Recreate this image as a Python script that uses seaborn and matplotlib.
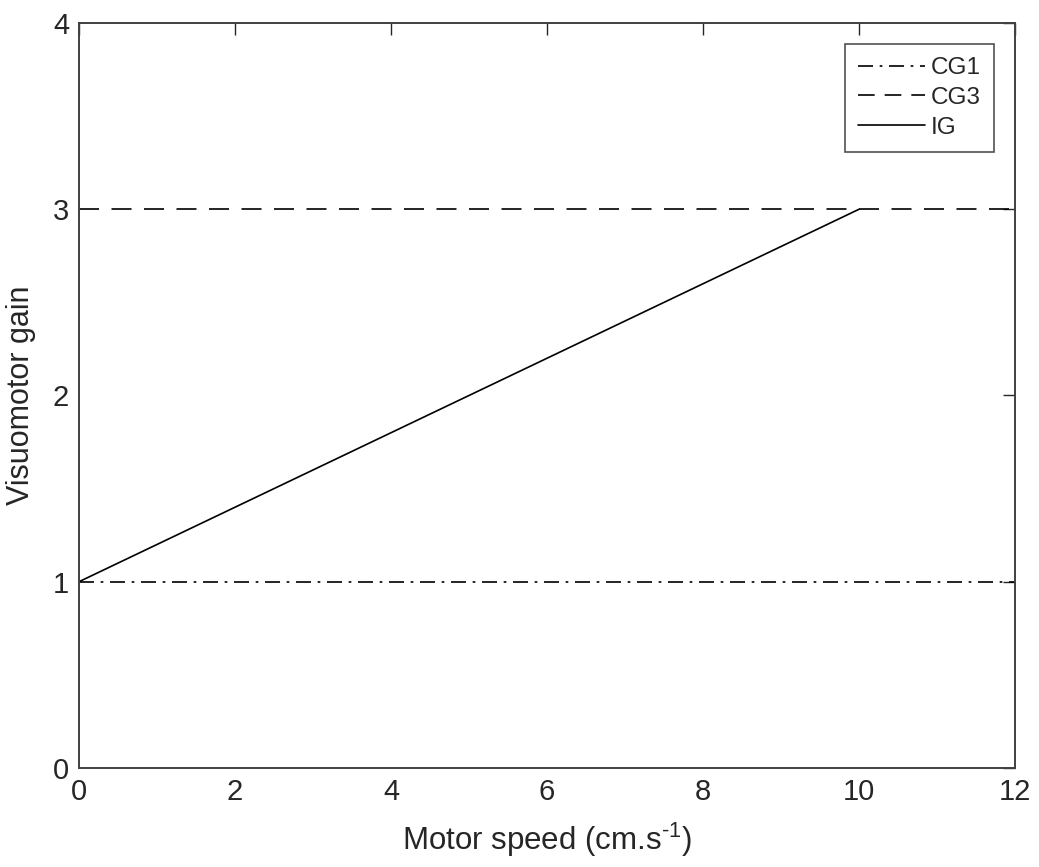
import numpy as np
import pandas as pd
import seaborn as sns
from matplotlib import pyplot as plt

# motor speed (cm/s) and visuomotor gain for each condition
speed_cg = [0, 12]
gain_cg1 = [1, 1]
gain_cg3 = [3, 3]
speed_ig = [0, 10]
gain_ig = [1, 3]

x_ticks = [0, 2, 4, 6, 8, 10, 12]
y_ticks = [0, 1, 2, 3, 4]


def main():
    sns.set_theme(style='white')
    plt.rcParams['font.family'] = ['Liberation Sans', 'DejaVu Sans']
    plt.rcParams['mathtext.fontset'] = 'custom'
    plt.rcParams['mathtext.rm'] = 'Liberation Sans'

    fig = plt.figure(figsize=(10.39, 8.67), dpi=100)
    ax = fig.add_axes([0.076, 0.1142, 0.901, 0.8593])

    sns.lineplot(x=speed_cg, y=gain_cg1, ax=ax, color='black', lw=1.2,
                 label='CG1', dashes=False)
    sns.lineplot(x=speed_cg, y=gain_cg3, ax=ax, color='black', lw=1.2,
                 label='CG3', dashes=False)
    sns.lineplot(x=speed_ig, y=gain_ig, ax=ax, color='black', lw=1.2,
                 label='IG', dashes=False)
    lines = ax.get_lines()
    lines[0].set_linestyle((0, (9, 4, 1.6, 4)))
    lines[1].set_linestyle((0, (12, 7.5)))

    ax.set_xlim(0, 12)
    ax.set_ylim(0, 4)
    ax.set_xticks(x_ticks)
    ax.set_yticks(y_ticks)
    ax.tick_params(direction='in', length=8.5, width=1, colors='#262626',
                   labelsize=21, top=True, right=True, pad=7)
    ax.tick_params(axis='x', labeltop=False)
    ax.tick_params(axis='y', labelright=False)
    for s in ax.spines.values():
        s.set_color('#404040')
        s.set_linewidth(1.4)

    ax.set_xlabel(r'Motor speed (cm.s$^{\text{-1}}$)', fontsize=22.5,
                  color='#262626', labelpad=11)
    ax.set_ylabel('Visuomotor gain', fontsize=22, color='#262626', labelpad=12)

    leg = ax.legend(loc='upper right', fontsize=17.5, frameon=True, fancybox=False,
                    edgecolor='#262626', handlelength=2.75, handletextpad=0.25,
                    borderpad=0.55, labelspacing=0.32, borderaxespad=0.85)
    leg.get_frame().set_linewidth(1.2)
    leg.get_lines()[1].set_linestyle((0, (10, 6)))

    fig.savefig('out.png', dpi=100)


if __name__ == '__main__':
    main()
